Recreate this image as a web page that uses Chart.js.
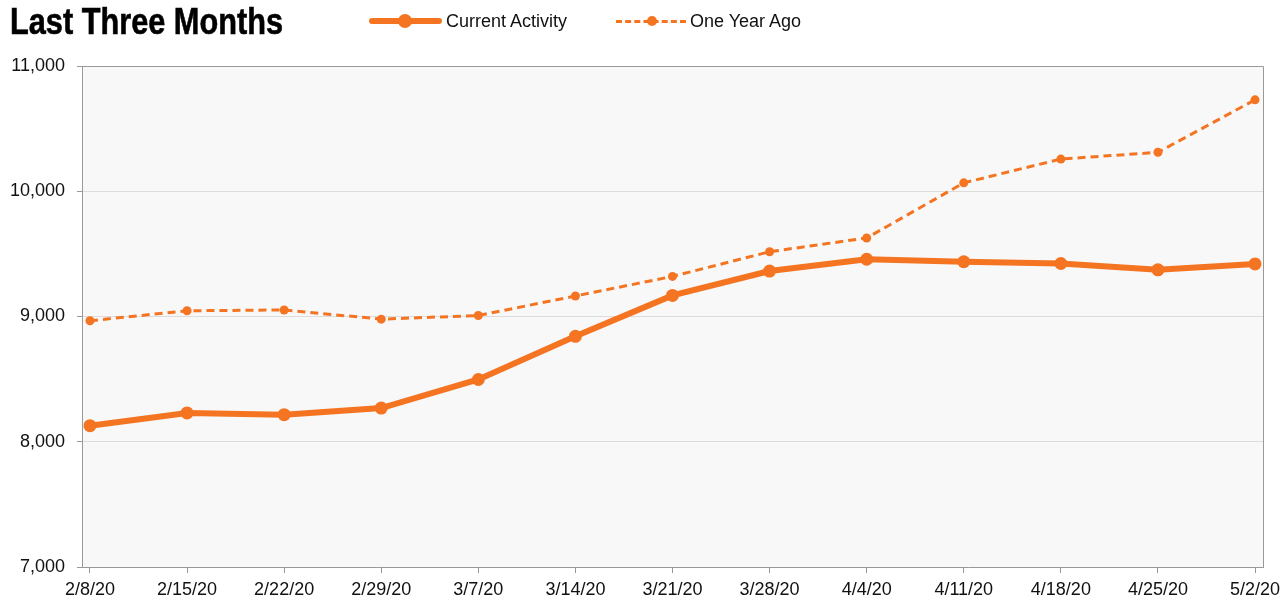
<!DOCTYPE html>
<html>
<head>
<meta charset="utf-8">
<script src="https://cdn.jsdelivr.net/npm/chart.js@4/dist/chart.umd.min.js"></script>
<style>
  body { margin: 0; background: #fff; }
  #wrap { position: relative; width: 1283px; height: 603px; font-family: "Liberation Sans", Arial, sans-serif; }
  #myChart { position: absolute; left: 0; top: 0; }
  #title { position: absolute; left: 10px; top: 0px; font-family: "Liberation Sans", Arial, sans-serif; font-weight: bold; font-size: 37px; line-height: 44px; color: #000; transform: scaleX(0.83); transform-origin: left top; white-space: nowrap; -webkit-text-stroke: 0.6px #000; }
  .leg { position: absolute; top: 10px; font-size: 18px; line-height: 22px; color: #111; }
  .sw { position: absolute; }
</style>
</head>
<body>
<div id="wrap">
  <canvas id="myChart" width="1283" height="603"></canvas>
  <div id="title">Last Three Months</div>
  <div class="sw" style="left:369px;top:18px;width:73px;height:6px;border-radius:3px;background:#f47422"></div>
  <div class="sw" style="left:398px;top:14px;width:14px;height:14px;border-radius:7px;background:#f47422"></div>
  <div class="leg" style="left:446px">Current Activity</div>
  <div class="sw" style="left:616px;top:20px;width:70px;height:0;border-top:3px dashed #f47422"></div>
  <div class="sw" style="left:647px;top:16px;width:10px;height:10px;border-radius:5px;background:#f47422"></div>
  <div class="leg" style="left:690px">One Year Ago</div>
</div>
<script>
var dates = ['2/8/20', '2/15/20', '2/22/20', '2/29/20', '3/7/20', '3/14/20', '3/21/20',
	'3/28/20', '4/4/20', '4/11/20', '4/18/20', '4/25/20', '5/2/20'];
var currentActivity = [8128, 8230, 8216, 8269, 8497, 8842, 9168, 9363, 9457, 9437, 9423, 9373, 9420];
var oneYearAgo = [8966, 9046, 9052, 8979, 9008, 9164, 9320, 9517, 9627, 10067, 10257, 10311, 10730];
var yTicks = [7000, 8000, 9000, 10000, 11000];

var orange = '#f47422';

// plot background and frame
var plotBox = {
	id: 'plotBox',
	beforeDraw: function(chart) {
		var a = chart.chartArea, ctx = chart.ctx;
		ctx.save();
		ctx.fillStyle = '#f8f8f8';
		ctx.fillRect(a.left, a.top, a.right - a.left, a.bottom - a.top);
		ctx.restore();
	},
	afterDatasetsDraw: function(chart) {
		var a = chart.chartArea, ctx = chart.ctx;
		ctx.save();
		ctx.strokeStyle = '#999';
		ctx.lineWidth = 1;
		ctx.beginPath();
		ctx.moveTo(a.left, a.top + 0.5);
		ctx.lineTo(a.right + 0.5, a.top + 0.5);
		ctx.lineTo(a.right + 0.5, a.bottom);
		ctx.stroke();
		ctx.restore();
	}
};

var ctx = document.getElementById('myChart').getContext('2d');
var chart = new Chart(ctx, {
	type: 'line',
	data: {
		datasets: [
			{
				label: 'One Year Ago',
				data: oneYearAgo.map(function(v, i) { return {x: i, y: v}; }),
				borderColor: orange,
				backgroundColor: orange,
				borderWidth: 3,
				borderDash: [8, 5],
				pointRadius: 4.5,
				pointBorderWidth: 0,
				tension: 0
			},
			{
				label: 'Current Activity',
				data: currentActivity.map(function(v, i) { return {x: i, y: v}; }),
				borderColor: orange,
				backgroundColor: orange,
				borderWidth: 6,
				pointRadius: 6.5,
				pointBorderWidth: 0,
				tension: 0
			}
		]
	},
	options: {
		responsive: false,
		animation: false,
		layout: { padding: { top: 66, right: 20, left: 0, bottom: 0 } },
		plugins: { legend: { display: false }, tooltip: { enabled: false } },
		scales: {
			x: {
				type: 'linear',
				min: -0.082,
				max: 12.082,
				afterBuildTicks: function(scale) {
					scale.ticks = dates.map(function(d, i) { return {value: i}; });
				},
				afterFit: function(scale) {
					scale.height = 36;
					scale.paddingLeft = 0;
					scale.paddingRight = 0;
				},
				ticks: {
					autoSkip: false,
					maxRotation: 0,
					padding: 6,
					color: '#111',
					font: { family: '"Liberation Sans", Arial, sans-serif', size: 18 },
					callback: function(v) { return dates[v]; }
				},
				grid: { drawOnChartArea: false, tickLength: 6, tickColor: '#999' },
				border: { color: '#999', width: 1 }
			},
			y: {
				min: 7000,
				max: 11000,
				afterBuildTicks: function(scale) {
					scale.ticks = yTicks.map(function(v) { return {value: v}; });
				},
				afterFit: function(scale) {
					scale.width = 82;
					scale.paddingTop = 0;
					scale.paddingBottom = 0;
				},
				ticks: {
					padding: 12,
					color: '#111',
					font: { family: '"Liberation Sans", Arial, sans-serif', size: 18 },
					callback: function(v) { return v.toLocaleString('en-US'); }
				},
				grid: { color: '#dcdcdc', tickLength: 5, tickColor: '#999' },
				border: { color: '#999', width: 1 }
			}
		}
	},
	plugins: [plotBox]
});
</script>
</body>
</html>
